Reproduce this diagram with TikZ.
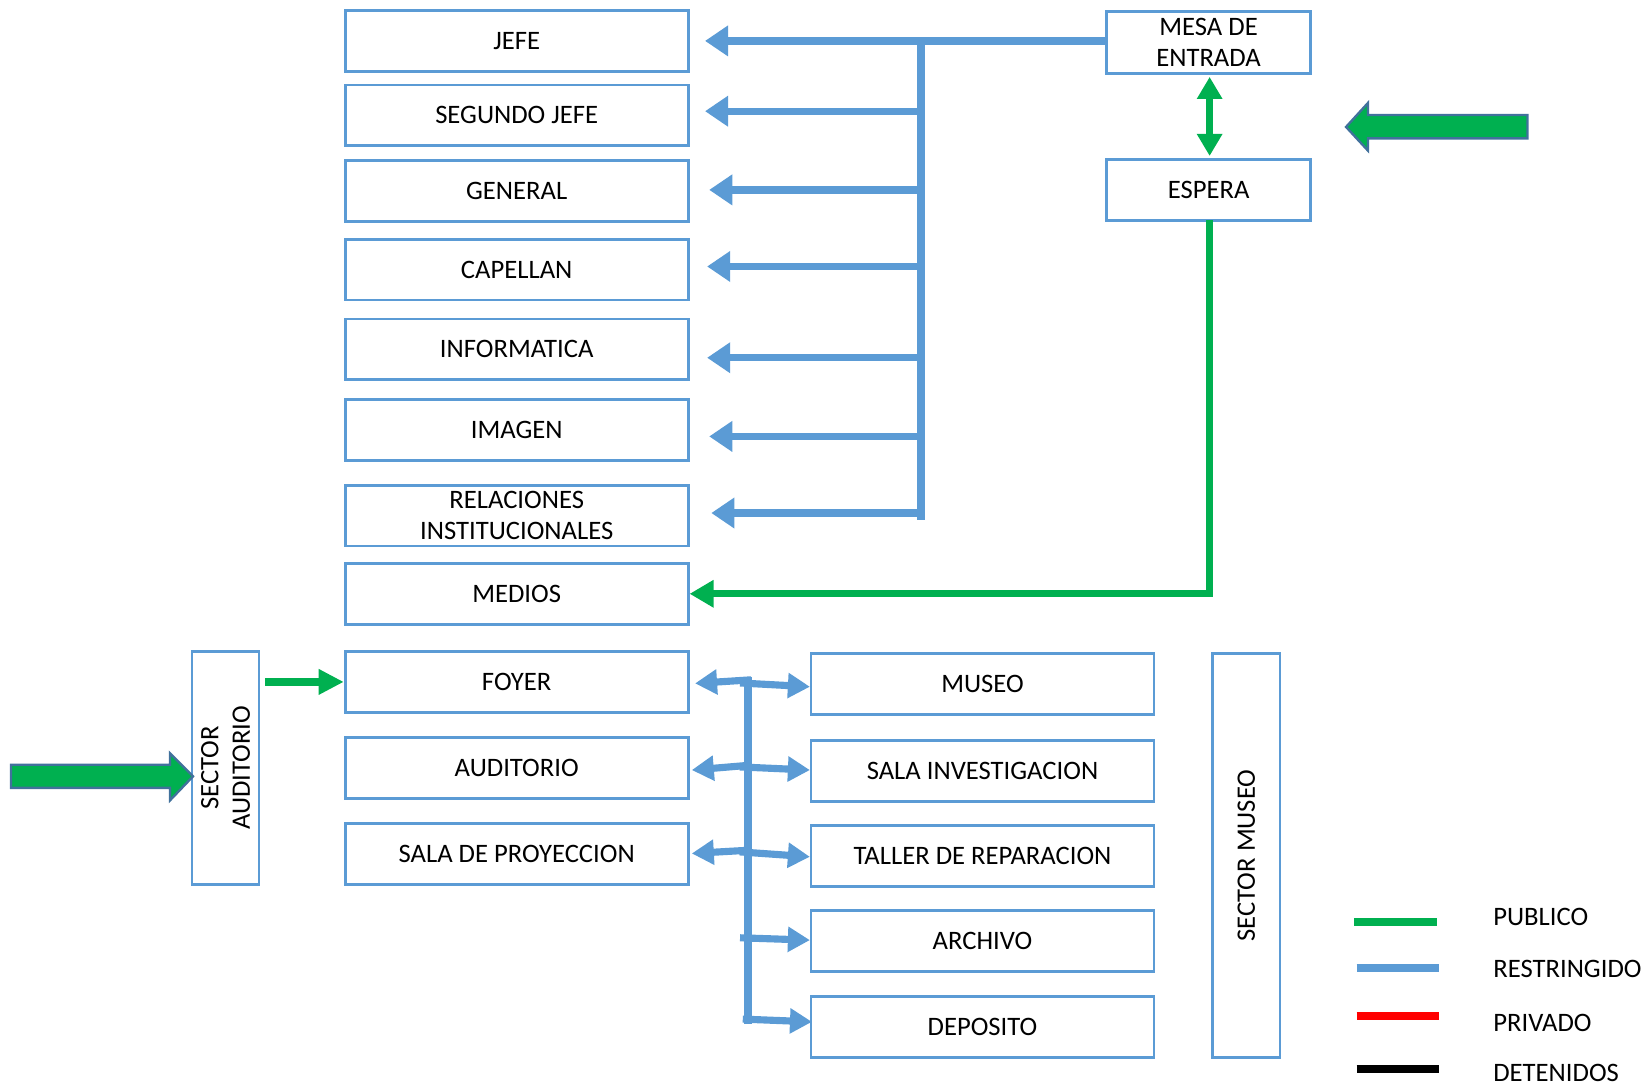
\documentclass[tikz,border=0pt]{standalone}
\usepackage{fontspec}
\setmainfont{Carlito}
\usetikzlibrary{arrows.meta}
\definecolor{bblue}{HTML}{5B9BD5}
\definecolor{ggreen}{HTML}{00B050}
\definecolor{oline}{HTML}{41719C}
\definecolor{rred}{HTML}{FF0000}
\tikzset{
  box/.style={draw=bblue, line width=1.3pt, fill=white, inner sep=0pt, align=center,
    font=\fontsize{12.7}{15}\selectfont, text=black},
  lbox/.style={box, minimum width=163.5pt, minimum height=29pt},
  mbox/.style={box, minimum width=97pt, minimum height=29pt},
  blarr/.style={draw=bblue, line width=3.5pt, -{Triangle[length=11pt,width=14pt]}},
  blsm/.style={draw=bblue, line width=3.4pt, -{Triangle[length=10.5pt,width=11.5pt]}},
  blline/.style={draw=bblue, line width=3.6pt},
  grline/.style={draw=ggreen, line width=3.3pt},
  legtext/.style={font=\fontsize{12.7}{15}\selectfont, anchor=west, inner sep=0pt}
}
\begin{document}
\begin{tikzpicture}[x=0.5pt,y=-0.5pt]
\useasboundingbox (0,0) rectangle (1568,1037);
% left column
\node[lbox] (jefe) at (492.5,39) {JEFE};
\node[lbox] (seg) at (492.5,110) {SEGUNDO JEFE};
\node[lbox] (gen) at (492.5,182) {GENERAL};
\node[lbox] (cap) at (492.5,257) {CAPELLAN};
\node[lbox] (inf) at (492.5,333) {INFORMATICA};
\node[lbox] (img) at (492.5,410) {IMAGEN};
\node[lbox] (rel) at (492.5,491.5) {RELACIONES\\INSTITUCIONALES};
\node[lbox] (med) at (492.5,566) {MEDIOS};
\node[lbox] (foy) at (492.5,650) {FOYER};
\node[lbox] (aud) at (492.5,732) {AUDITORIO};
\node[lbox] (sala) at (492.5,814) {SALA DE PROYECCION};
% right column
\node[lbox] (mus) at (936.5,652) {MUSEO};
\node[lbox] (inv) at (936.5,735) {SALA INVESTIGACION};
\node[lbox] (tal) at (936.5,816) {TALLER DE REPARACION};
\node[lbox] (arc) at (936.5,897) {ARCHIVO};
\node[lbox] (dep) at (936.5,979) {DEPOSITO};
% top right
\node[mbox, minimum height=29.5pt] (mesa) at (1152,40.5) {MESA DE\\ENTRADA};
\node[mbox] (esp) at (1152,181) {ESPERA};
% sectors
\node[box, rotate=90, minimum width=111pt, minimum height=32pt] (sa) at (215,732) {SECTOR\\AUDITORIO};
\node[box, rotate=90, minimum width=192.5pt, minimum height=32pt] (sm) at (1188,815.5) {SECTOR MUSEO};

% blue top tree
\draw[blline] (878,39) -- (878,496);
\draw[blarr] (mesa.west |- 0,39) -- (672,39);
\draw[blarr] (876,106) -- (672,106);
\draw[blarr] (876,181) -- (676,181);
\draw[blarr] (876,254) -- (674,254);
\draw[blarr] (876,341) -- (674,341);
\draw[blarr] (876,416) -- (676,416);
\draw[blarr] (876,489) -- (678,489);

% green
\draw[grline, {Triangle[length=10.5pt,width=11.5pt]}-{Triangle[length=10.5pt,width=11.5pt]}, shorten <=1pt, shorten >=1pt] (mesa.south -| 1153,0) -- (esp.north -| 1153,0);
\draw[grline, -{Triangle[length=11.5pt,width=12.5pt]}] (1153,210) -- (1153,566) -- (med.east);
\draw[grline, line width=3.8pt, -{Triangle[length=12pt,width=11.5pt]}] (253,650) -- (foy.west);

% blue bottom tree
\draw[blline] (713,645) -- (713,976);
\draw[blsm] (716,648) -- (662.5,651.4);
\draw[blsm] (716,729.3) -- (659.4,734);
\draw[blsm] (716,810.3) -- (659.4,813.5);
\draw[blsm] (705.4,651) -- (772,654.6);
\draw[blsm] (705,731) -- (772,734);
\draw[blsm] (705,812) -- (772,816.7);
\draw[blsm] (705.4,893.9) -- (772,896.1);
\draw[blsm] (708,971.4) -- (774,974);

% big arrows
\draw[fill=ggreen, draw=oline, line width=1.1pt, line join=miter]
  (1456,109.6) -- (1304,109.6) -- (1304,98) -- (1283,121) -- (1304,143.7) -- (1304,131.9) -- (1456,131.9) -- cycle;
\draw[fill=ggreen, draw=oline, line width=1.1pt, line join=miter]
  (10.5,729) -- (162,729) -- (162,718) -- (184,740) -- (162,763) -- (162,751) -- (10.5,751) -- cycle;

% legend
\draw[ggreen, line width=3.8pt] (1291,879) -- (1369.6,879);
\draw[bblue, line width=3.8pt] (1293,922.5) -- (1372,922.5);
\draw[rred, line width=3.8pt] (1293,968) -- (1372,968);
\draw[black, line width=3.8pt] (1293,1019) -- (1372,1019);
\node[legtext] (l1) at (1423,874) {PUBLICO};
\node[legtext] (l2) at (1423,924) {RESTRINGIDO};
\node[legtext] (l3) at (1423,975) {PRIVADO};
\node[legtext] (l4) at (1423,1023) {DETENIDOS};
\end{tikzpicture}
\end{document}
